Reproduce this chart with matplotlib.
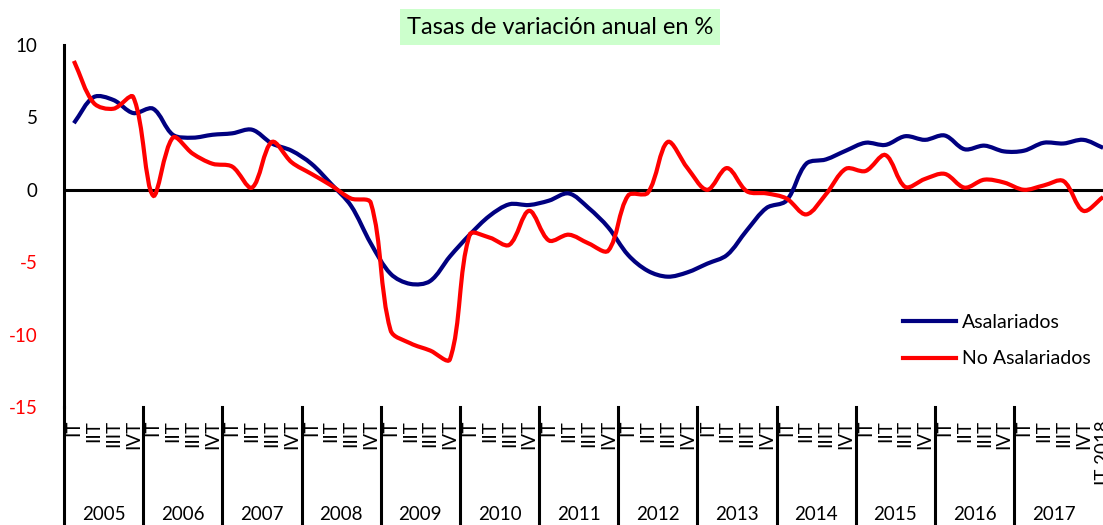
import numpy as np
import matplotlib
matplotlib.use('Agg')
import matplotlib.pyplot as plt
from matplotlib.path import Path
from matplotlib.patches import PathPatch
from matplotlib.lines import Line2D

plt.rcParams['font.family'] = ['Lato', 'DejaVu Sans']

# Quarterly annual growth rates, 2005 IT .. 2018 IT
asalariados = [4.6, 6.4, 6.2, 5.3, 5.6, 3.8, 3.6, 3.8, 3.9, 4.15,
               3.2, 2.7, 1.8, 0.4, -1.1, -3.7, -5.8, -6.5, -6.3, -4.6,
               -3.1, -1.8, -1.0, -1.05, -0.75, -0.25, -1.25, -2.6, -4.5, -5.6,
               -6.0, -5.7, -5.1, -4.5, -2.8, -1.25, -0.75, 1.8, 2.1, 2.7,
               3.25, 3.1, 3.7, 3.45, 3.75, 2.8, 3.05, 2.65, 2.7, 3.25,
               3.2, 3.45, 2.9]
no_asalariados = [8.9, 6.0, 5.6, 6.4, -0.4, 3.6, 2.5, 1.8, 1.6, 0.15,
                  3.3, 1.9, 1.1, 0.3, -0.6, -0.9, -9.7, -10.6, -11.1, -11.7,
                  -3.1, -3.3, -3.8, -1.45, -3.5, -3.1, -3.7, -4.2, -0.4, -0.2,
                  3.3, 1.5, 0.0, 1.5, -0.1, -0.25, -0.6, -1.7, -0.3, 1.45,
                  1.3, 2.4, 0.2, 0.75, 1.1, 0.15, 0.7, 0.5, 0.0, 0.3,
                  0.6, -1.45, -0.5]

years = [str(y) for y in range(2005, 2018)]
quarter_labels = ['IT', 'IIT', 'IIIT', 'IVT'] * len(years) + ['IT 2018']
y_ticks = [10, 5, 0, -5, -10, -15]

W, H = 1103, 525
AX_L, AX_B, AX_W, AX_H = 64, 118, 1049, 362
Y_MIN, Y_MAX = -15, 10


def smooth_path(values, sx, sy):
    # Excel-like smoothed line: bezier through every point, tangents
    # weighted by the on-screen length of neighbouring segments
    pts = np.column_stack([np.arange(len(values)), values]).astype(float)
    n = len(pts)

    def seg_len(a, b):
        d = pts[b] - pts[a]
        return np.hypot(d[0] * sx, d[1] * sy)

    verts = [pts[0]]
    codes = [Path.MOVETO]
    for i in range(n - 1):
        p1, p2 = pts[i], pts[i + 1]
        l1 = seg_len(i, i + 1)
        if i > 0:
            l0 = seg_len(i - 1, i)
            c1 = p1 + (p2 - pts[i - 1]) * l1 / (l0 + l1) / 3
        else:
            c1 = p1 + (p2 - p1) / 3
        if i + 2 < n:
            l2 = seg_len(i + 1, i + 2)
            c2 = p2 - (pts[i + 2] - p1) * l1 / (l1 + l2) / 3
        else:
            c2 = p2 - (p2 - p1) / 3
        verts += [c1, c2, p2]
        codes += [Path.CURVE4] * 3
    return Path(verts, codes)


fig = plt.figure(figsize=(W / 100, H / 100), dpi=100)
ax = fig.add_axes([AX_L / W, AX_B / H, AX_W / W, AX_H / H])

n = len(quarter_labels)
sx = AX_W / n
sy = AX_H / (Y_MAX - Y_MIN)
ax.add_patch(PathPatch(smooth_path(asalariados, sx, sy), fill=False,
                       edgecolor='#000080', lw=3, zorder=3))
ax.add_patch(PathPatch(smooth_path(no_asalariados, sx, sy), fill=False,
                       edgecolor='#FF0000', lw=3, zorder=4))

ax.set_xlim(-0.5, n - 0.5)
ax.set_ylim(Y_MIN, Y_MAX)
ax.axhline(0, color='black', lw=2.2, zorder=2)

for s in ['top', 'right', 'bottom']:
    ax.spines[s].set_visible(False)
ax.spines['left'].set_linewidth(2.2)

ax.set_xticks([])
ax.set_yticks(y_ticks)
ax.set_yticklabels([str(v) for v in y_ticks], fontsize=13.5)
ax.tick_params(axis='y', length=0, pad=19)
for lbl, v in zip(ax.get_yticklabels(), y_ticks):
    lbl.set_color('red' if v < 0 else 'black')

# category labels below the plot
trans = ax.get_xaxis_transform()
for i, q in enumerate(quarter_labels):
    ax.text(i, -0.036, q, transform=trans, rotation=90, ha='center', va='top',
            fontsize=13.5, clip_on=False)
for k, yr in enumerate(years):
    ax.text(4 * k + 1.5, -0.298, yr, transform=trans, ha='center', va='center',
            fontsize=13.5, clip_on=False)
    ax.plot([4 * k - 0.5, 4 * k - 0.5], [0, -0.33], transform=trans, color='black',
            lw=2.2, clip_on=False)

handles = [Line2D([], [], color='#000080', lw=3), Line2D([], [], color='#FF0000', lw=3)]
ax.legend(handles, ['Asalariados', 'No Asalariados'], loc='upper left',
          bbox_to_anchor=(903 / W, (H - 314) / H), bbox_transform=fig.transFigure,
          frameon=False, fontsize=14, handlelength=2.75, handletextpad=0.3,
          labelspacing=1.0, borderaxespad=0, borderpad=0)

fig.text(560 / W, (H - 27) / H, 'Tasas de variación anual en %', ha='center',
         va='center', fontsize=17,
         bbox=dict(boxstyle='square,pad=0.3', facecolor='#CCFFCC', edgecolor='none'))

fig.savefig('out.png', dpi=100)
